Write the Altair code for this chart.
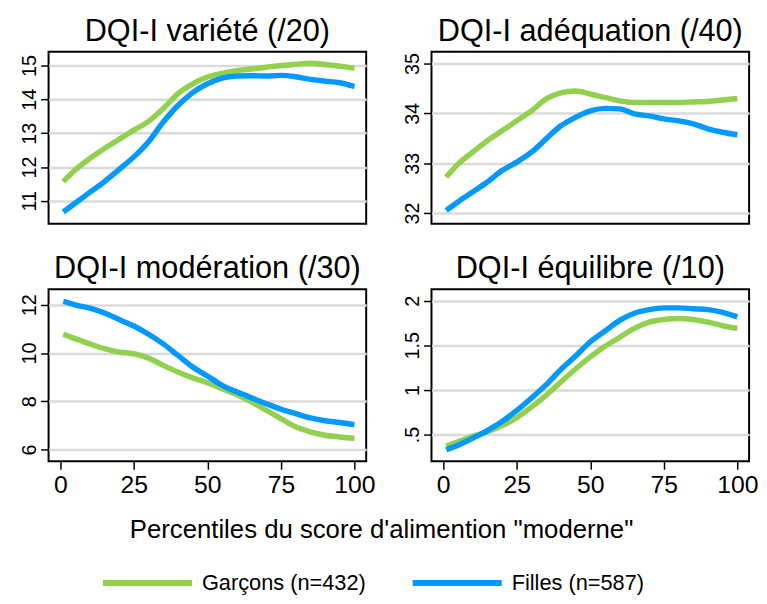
import altair as alt
import pandas as pd

# ---- data ----
PCT = [1, 5, 10, 15, 20, 25, 30, 35, 40, 45, 50, 55, 60, 65, 70, 75, 80, 85, 90, 95, 100]

SERIES = ["Garçons (n=432)", "Filles (n=587)"]
COLORS = ["#92D050", "#0099FF"]

variete_g = [11.57, 11.91, 12.25, 12.55, 12.82, 13.09, 13.35, 13.73, 14.17, 14.46, 14.66,
             14.77, 14.85, 14.90, 14.95, 15.00, 15.04, 15.07, 15.03, 14.98, 14.92]
variete_f = [10.67, 10.93, 11.25, 11.57, 11.93, 12.30, 12.75, 13.33, 13.82, 14.20, 14.46,
             14.63, 14.69, 14.70, 14.69, 14.71, 14.67, 14.59, 14.54, 14.49, 14.38]

adequation_g = [32.72, 32.98, 33.22, 33.45, 33.65, 33.85, 34.05, 34.29, 34.41, 34.45, 34.39,
                34.32, 34.25, 34.22, 34.22, 34.22, 34.22, 34.23, 34.24, 34.27, 34.30]
adequation_f = [32.05, 32.22, 32.42, 32.62, 32.85, 33.02, 33.22, 33.49, 33.75, 33.92, 34.05,
                34.10, 34.09, 33.99, 33.95, 33.89, 33.85, 33.79, 33.69, 33.62, 33.57]

moderation_g = [10.78, 10.60, 10.38, 10.18, 10.04, 9.97, 9.79, 9.49, 9.21, 8.97, 8.77,
                8.52, 8.28, 7.97, 7.63, 7.28, 6.94, 6.73, 6.59, 6.52, 6.46]
moderation_f = [12.14, 12.00, 11.86, 11.66, 11.39, 11.12, 10.78, 10.38, 9.90, 9.42, 9.05,
                8.66, 8.39, 8.14, 7.90, 7.67, 7.49, 7.31, 7.19, 7.12, 7.03]

equilibre_g = [0.37, 0.42, 0.48, 0.53, 0.60, 0.69, 0.81, 0.94, 1.09, 1.235, 1.37,
               1.49, 1.59, 1.69, 1.76, 1.79, 1.80, 1.79, 1.76, 1.72, 1.69]
equilibre_f = [0.33, 0.38, 0.46, 0.545, 0.645, 0.77, 0.91, 1.06, 1.23, 1.38, 1.54,
               1.66, 1.78, 1.86, 1.90, 1.92, 1.92, 1.91, 1.90, 1.87, 1.82]

TITLES = ["DQI-I variété (/20)", "DQI-I adéquation (/40)",
          "DQI-I modération (/30)", "DQI-I équilibre (/10)"]
X_TICKS = [0, 25, 50, 75, 100]
X_TITLE = 'Percentiles du score d\'alimention "moderne"'

FONT = "Liberation Sans"
W, H = 321, 174

color_enc = alt.Color(
    "serie:N",
    scale=alt.Scale(domain=SERIES, range=COLORS),
    legend=alt.Legend(
        title=None, orient="none", direction="horizontal",
        legendX=89, legendY=526,
        symbolType="M-10,0H10", symbolSize=81, symbolStrokeWidth=6,
        labelFontSize=22, labelFont=FONT, labelColor="black", labelLimit=400,
        labelOffset=44, columnPadding=35, padding=0,
    ),
)


def panel(title, g, f, ydom, yticks, bottom, xtitle=None, ylabel_expr=None):
    dg = pd.DataFrame({"x": PCT, "y": g, "serie": SERIES[0]})
    df = pd.DataFrame({"x": PCT, "y": f, "serie": SERIES[1]})
    if bottom:
        xargs = dict(values=X_TICKS, tickSize=8, tickWidth=1.5, tickColor="black",
                     labelFontSize=25, labelPadding=4, grid=False, domain=False,
                     labelFont=FONT, labelColor="black")
        if xtitle:
            xargs.update(title=xtitle, titleFont=FONT, titleFontSize=26,
                         titleFontWeight="normal", titleColor="black",
                         titleX=336, titleY=77, titleAlign="center",
                         titleBaseline="alphabetic")
        else:
            xargs["title"] = None
        xaxis = alt.Axis(**xargs)
    else:
        xaxis = None
    yargs = dict(values=yticks, tickSize=8, tickWidth=1.5, tickColor="black",
                 labelAngle=270, labelAlign="center", labelBaseline="alphabetic",
                 labelFontSize=20, labelPadding=5, labelFont=FONT, labelColor="black",
                 grid=True, gridColor="#dadada", gridWidth=2.5, domain=False, title=None)
    if ylabel_expr:
        yargs["labelExpr"] = ylabel_expr
    x = alt.X("x:Q", scale=alt.Scale(domain=[-4, 104], nice=False, zero=False), axis=xaxis)
    y = alt.Y("y:Q", scale=alt.Scale(domain=ydom, nice=False, zero=False), axis=alt.Axis(**yargs))
    lg = alt.Chart(dg).mark_line(strokeWidth=5.5, interpolate="monotone").encode(x=x, y=y, color=color_enc)
    lf = alt.Chart(df).mark_line(strokeWidth=5.5, interpolate="monotone").encode(x=x, y=y, color=color_enc)
    return alt.layer(lg, lf).properties(
        width=W, height=H,
        title=alt.TitleParams(title, fontSize=31, font=FONT, fontWeight="normal",
                              color="black", anchor="middle", offset=4),
    )


p1 = panel(TITLES[0], variete_g, variete_f, [10.32, 15.41], [11, 12, 13, 14, 15], False)
p2 = panel(TITLES[1], adequation_g, adequation_f, [31.78, 35.24], [32, 33, 34, 35], False)
p3 = panel(TITLES[2], moderation_g, moderation_f, [5.51, 12.65], [6, 8, 10, 12], True,
           xtitle=X_TITLE)
p4 = panel(TITLES[3], equilibre_g, equilibre_f, [0.2, 2.13], [0.5, 1, 1.5, 2], True,
           ylabel_expr="datum.value == 0.5 ? '.5' : format(datum.value, '~g')")

chart = alt.ConcatChart(
    concat=[p1, p2, p3, p4], columns=2,
    spacing=alt.RowColnumber(row=66, column=66), bounds="flush",
).properties(
    padding={"left": 10, "top": 4, "right": 0, "bottom": 0},
    background="white",
).configure_view(stroke="black", strokeWidth=2)

chart.save("out.html", embed_options={"renderer": "svg", "actions": False})
